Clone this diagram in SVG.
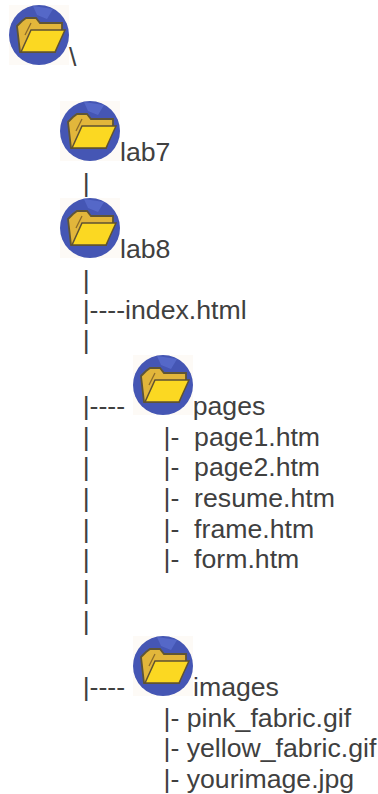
<svg xmlns="http://www.w3.org/2000/svg" width="378" height="794" viewBox="0 0 378 794">
<style>
text{font-family:"Liberation Sans",Arial,sans-serif;font-size:26.67px;fill:#404040;white-space:pre}
</style>
<defs>
<filter id="soft" x="-5%" y="-5%" width="110%" height="110%"><feGaussianBlur stdDeviation="0.7"/></filter>
<g id="folder">
<rect x="0" y="0" width="60" height="60" fill="#fdfaf6"/>
<g filter="url(#soft)">
<circle cx="30" cy="30" r="30" fill="#4557b4"/>
<path d="M24 1 L44 4 L38 14 L28 10 Z" fill="#5568c8"/>
<path d="M8 21 L13 16 L17 13 L27 13 L31 18 L53 18 L53 24 L46 47 L11 47 Z" fill="#e2b63a" stroke="#5f5436" stroke-width="1.8"/>
<path d="M12 47 L22 25 L56 25 L46 47 Z" fill="#fbd820" stroke="#5f5232" stroke-width="1.5"/>
<path d="M16 30 L22 18" stroke="#8c6a2a" stroke-width="1.2" fill="none"/>
</g>
</g>
</defs>
<g id="root"><use href="#folder" x="9" y="5"/><text x="69" y="66">\</text></g>
<g id="lab7"><use href="#folder" x="60" y="101"/><text x="120" y="161">lab7</text></g>
<g id="lab8"><use href="#folder" x="60" y="198"/><text x="120" y="258">lab8</text></g>
<g id="index"><text x="82.7" y="318.5">|----index.html</text></g>
<g id="pages"><use href="#folder" x="133" y="355"/><text x="192.7" y="415">pages</text></g>
<g id="images"><use href="#folder" x="133" y="636"/><text x="193" y="696">images</text></g>
<g id="connectors">
<text x="82.7" y="192">|</text>
<text x="82.7" y="288.5">|</text>
<text x="82.7" y="349">|</text>
<text x="82.7" y="415">|----</text>
<text x="82.7" y="445.5">|</text>
<text x="82.7" y="476">|</text>
<text x="82.7" y="507">|</text>
<text x="82.7" y="537.5">|</text>
<text x="82.7" y="568">|</text>
<text x="82.7" y="599">|</text>
<text x="82.7" y="629.7">|</text>
<text x="82.7" y="696">|----</text>
</g>
<g id="files">
<text x="163.5" y="445.5">|-  page1.htm</text>
<text x="163.5" y="476">|-  page2.htm</text>
<text x="163.5" y="507">|-  resume.htm</text>
<text x="163.5" y="537.5">|-  frame.htm</text>
<text x="163.5" y="568">|-  form.htm</text>
<text x="163.5" y="726.5">|- pink_fabric.gif</text>
<text x="163.5" y="757">|- yellow_fabric.gif</text>
<text x="163.5" y="788">|- yourimage.jpg</text>
</g>
</svg>
